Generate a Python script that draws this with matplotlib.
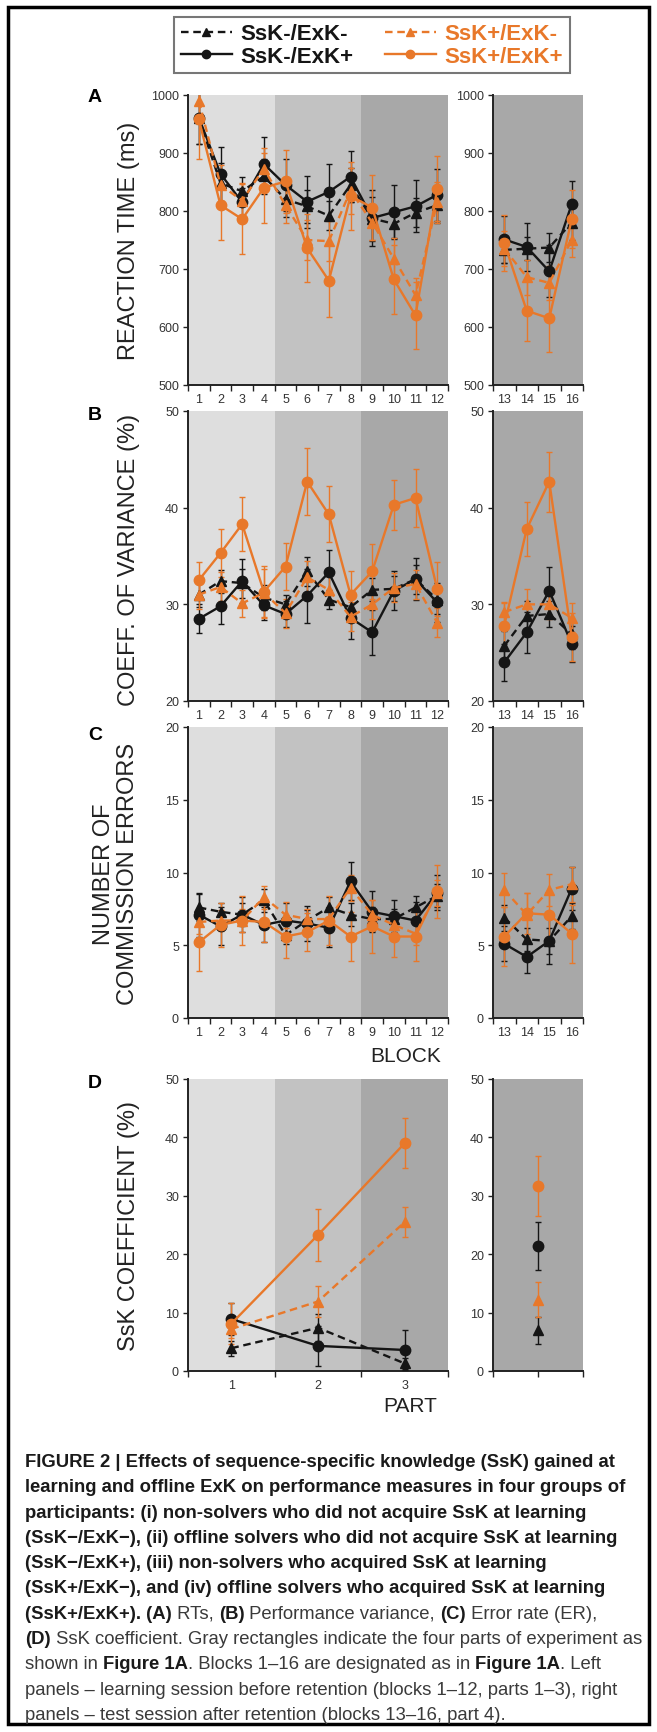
import numpy as np
import matplotlib.pyplot as plt
from matplotlib.patches import Rectangle
from matplotlib import font_manager

plt.rcParams['font.family'] = ['Liberation Sans', 'DejaVu Sans']

# dados
blocks = np.arange(1, 17)
parts = np.array([1, 2, 3, 4])

# A - tempo de reacao (ms)
rt_nn = [960, 848, 834, 860, 820, 808, 792, 845, 787, 778, 797, 810, 733, 735, 737, 780]
rt_nn_err = [45, 35, 25, 30, 30, 28, 25, 30, 38, 25, 25, 30, 22, 20, 25, 30]
rt_ns = [961, 864, 815, 881, 845, 816, 833, 859, 788, 798, 808, 828, 751, 738, 696, 812]
rt_ns_err = [45, 46, 25, 47, 45, 45, 48, 44, 48, 47, 45, 45, 40, 42, 45, 40]
rt_sn = [990, 845, 818, 873, 810, 750, 748, 835, 780, 718, 655, 815, 735, 686, 676, 750]
rt_sn_err = [40, 35, 30, 35, 30, 35, 35, 40, 30, 35, 30, 35, 30, 30, 30, 30]
rt_ss = [958, 810, 786, 840, 851, 736, 680, 826, 806, 682, 620, 838, 745, 628, 615, 786]
rt_ss_err = [68, 60, 60, 60, 55, 58, 62, 58, 56, 60, 58, 56, 48, 52, 58, 50]

# B - coeficiente de variacao (%)
cv_nn = [31.0, 32.4, 32.2, 30.7, 30.0, 33.4, 30.5, 29.7, 31.5, 31.6, 32.6, 30.5, 25.7, 28.8, 29.0, 26.9]
cv_nn_err = [1.3, 1.2, 1.5, 1.3, 1.0, 1.5, 1.0, 1.2, 1.2, 1.3, 1.5, 1.5, 1.5, 1.5, 1.3, 1.5]
cv_ns = [28.5, 29.8, 32.4, 29.9, 29.0, 30.9, 33.3, 28.6, 27.1, 31.4, 32.6, 30.2, 24.0, 27.1, 31.4, 25.9]
cv_ns_err = [1.5, 1.8, 2.3, 1.5, 1.3, 2.8, 2.3, 2.2, 2.3, 2.0, 2.2, 2.0, 1.9, 2.1, 2.5, 1.9]
cv_sn = [31.0, 31.8, 30.1, 31.2, 29.1, 32.8, 31.5, 28.7, 30.0, 31.7, 32.1, 28.1, 29.2, 30.0, 30.0, 28.6]
cv_sn_err = [1.5, 1.5, 1.4, 2.5, 1.5, 1.7, 1.5, 1.5, 1.5, 1.5, 1.5, 1.5, 1.0, 1.6, 1.5, 1.5]
cv_ss = [32.5, 35.3, 38.3, 31.3, 33.9, 42.7, 39.3, 31.0, 33.4, 40.3, 41.0, 31.6, 27.8, 37.8, 42.7, 26.6]
cv_ss_err = [1.9, 2.5, 2.8, 2.7, 2.4, 3.5, 2.9, 2.5, 2.8, 2.6, 3.0, 2.8, 2.3, 2.8, 3.1, 2.5]

# C - numero de erros de comissao
er_nn = [7.6, 7.3, 7.1, 8.1, 5.7, 6.7, 7.6, 7.1, 6.8, 6.8, 7.6, 8.4, 6.9, 5.4, 5.3, 7.0]
er_nn_err = [0.9, 0.6, 0.8, 0.8, 0.6, 0.7, 0.7, 0.8, 0.8, 0.7, 0.8, 0.8, 0.9, 0.8, 0.9, 0.9]
er_ns = [7.1, 6.3, 7.1, 6.4, 6.7, 6.5, 6.2, 9.4, 7.3, 7.0, 6.7, 8.6, 5.1, 4.2, 5.3, 8.9]
er_ns_err = [1.5, 1.3, 1.2, 1.2, 1.2, 1.2, 1.3, 1.3, 1.4, 1.1, 1.3, 1.2, 1.2, 1.1, 1.6, 1.5]
er_sn = [6.6, 6.7, 6.7, 8.3, 7.1, 6.8, 6.8, 8.95, 7.1, 6.4, 5.8, 8.6, 8.8, 7.1, 8.8, 9.2]
er_sn_err = [0.8, 0.7, 0.8, 0.8, 0.9, 0.7, 0.8, 0.9, 1.0, 0.8, 0.8, 0.9, 1.2, 1.5, 1.1, 1.2]
er_ss = [5.2, 6.4, 6.7, 6.6, 5.6, 5.9, 6.7, 5.6, 6.3, 5.6, 5.6, 8.7, 5.6, 7.2, 7.1, 5.8]
er_ss_err = [2.0, 1.5, 1.7, 1.4, 1.5, 1.3, 1.7, 1.7, 1.8, 1.4, 1.7, 1.8, 2.0, 1.4, 1.5, 2.0]

# D - coeficiente SsK (%) por parte
sk_nn = [3.9, 7.4, 1.3, 7.0]
sk_nn_err = [1.3, 2.3, 1.0, 2.3]
sk_ns = [8.9, 4.3, 3.6, 21.4]
sk_ns_err = [2.8, 3.4, 3.5, 4.1]
sk_sn = [7.2, 11.9, 25.5, 12.2]
sk_sn_err = [1.5, 2.6, 2.5, 3.0]
sk_ss = [8.1, 23.3, 39.0, 31.7]
sk_ss_err = [3.5, 4.5, 4.3, 5.1]

labels = ['SsK-/ExK-', 'SsK-/ExK+', 'SsK+/ExK-', 'SsK+/ExK+']

preto = '#151515'
laranja = '#e8782a'
cinza1, cinza2, cinza3 = '#dedede', '#c2c2c2', '#a8a8a8'
estilos = [(preto, '^', (0, (3.2, 2))), (preto, 'o', '-'),
           (laranja, '^', (0, (3.2, 2))), (laranja, 'o', '-')]

W, H = 657, 1733
fig = plt.figure(figsize=(W / 100, H / 100), dpi=100)


def eixo(x0, y0, x1, y1):
    # posicao em pixels (origem no topo)
    return fig.add_axes([x0 / W, 1 - y1 / H, (x1 - x0) / W, (y1 - y0) / H])


def desenha(ax, x, series, faixas, xlim, ylim, yticks):
    for lo, hi, c in faixas:
        ax.axvspan(lo, hi, color=c, lw=0, zorder=0)
    linhas = []
    for (y, e), (cor, mk, ls) in zip(series, estilos):
        cont = ax.errorbar(x, y, yerr=e, color=cor, marker=mk, ls=ls, lw=1.7,
                           markersize=7.5, elinewidth=1, capsize=2.5, capthick=1,
                           zorder=3)
        linhas.append(cont[0])
    ax.set_xlim(*xlim)
    ax.set_ylim(*ylim)
    ax.set_yticks(yticks)
    ax.set_facecolor('none')
    for s in ['top', 'right']:
        ax.spines[s].set_visible(False)
    for s in ['left', 'bottom']:
        ax.spines[s].set_color('#222222')
        ax.spines[s].set_linewidth(1.4)
    ax.tick_params(axis='y', direction='out', length=3.5, width=1, pad=3,
                   labelsize=9, labelcolor='#333333', color='#222222')
    ax.tick_params(axis='x', which='major', direction='out', length=4, width=1,
                   color='#222222')
    ax.tick_params(axis='x', which='minor', length=0, pad=6, labelsize=9,
                   labelcolor='#333333')
    return linhas


def ticks_blocos(ax, lo, hi):
    ax.set_xticks(np.arange(lo - 0.5, hi + 1, 1.0))
    ax.set_xticklabels([])
    ax.set_xticks(np.arange(lo, hi + 1), minor=True)
    ax.set_xticklabels([str(b) for b in range(lo, hi + 1)], minor=True)


faixas_l = [(0.5, 4.5, cinza1), (4.5, 8.5, cinza2), (8.5, 12.5, cinza3)]
faixas_r = [(12.5, 16.5, cinza3)]

paineis = [
    ([rt_nn, rt_ns, rt_sn, rt_ss], [rt_nn_err, rt_ns_err, rt_sn_err, rt_ss_err],
     (96, 386), (500, 1000), np.arange(500, 1001, 100)),
    ([cv_nn, cv_ns, cv_sn, cv_ss], [cv_nn_err, cv_ns_err, cv_sn_err, cv_ss_err],
     (412, 702), (20, 50), np.arange(20, 51, 10)),
    ([er_nn, er_ns, er_sn, er_ss], [er_nn_err, er_ns_err, er_sn_err, er_ss_err],
     (728, 1019), (0, 20), np.arange(0, 21, 5)),
]

handles = None
for vals, errs, (y0, y1), ylim, yt in paineis:
    ax_l = eixo(188, y0, 448, y1)
    ax_r = eixo(493, y0, 583, y1)
    s_l = [(np.array(v)[:12], np.array(e)[:12]) for v, e in zip(vals, errs)]
    s_r = [(np.array(v)[12:], np.array(e)[12:]) for v, e in zip(vals, errs)]
    h = desenha(ax_l, blocks[:12], s_l, faixas_l, (0.5, 12.5), ylim, yt)
    desenha(ax_r, blocks[12:], s_r, faixas_r, (12.5, 16.5), ylim, yt)
    ticks_blocos(ax_l, 1, 12)
    ticks_blocos(ax_r, 13, 16)
    if handles is None:
        handles = h

# painel D
ax_l = eixo(188, 1080, 448, 1372)
ax_r = eixo(493, 1080, 583, 1372)
sk_all = [(sk_nn, sk_nn_err), (sk_ns, sk_ns_err), (sk_sn, sk_sn_err), (sk_ss, sk_ss_err)]
desenha(ax_l, parts[:3], [(np.array(v)[:3], np.array(e)[:3]) for v, e in sk_all],
        [(0.5, 1.5, cinza1), (1.5, 2.5, cinza2), (2.5, 3.5, cinza3)],
        (0.5, 3.5), (0, 50), np.arange(0, 51, 10))
desenha(ax_r, parts[3:], [(np.array(v)[3:], np.array(e)[3:]) for v, e in sk_all],
        [(3.5, 4.5, cinza3)], (3.5, 4.5), (0, 50), np.arange(0, 51, 10))
ax_l.set_xticks([0.5, 1.5, 2.5, 3.5])
ax_l.set_xticklabels([])
ax_l.set_xticks([1, 2, 3], minor=True)
ax_l.set_xticklabels(['1', '2', '3'], minor=True)
ax_r.set_xticks([3.5, 4, 4.5])
ax_r.set_xticklabels([])
ax_r.set_xticks([4], minor=True)
ax_r.set_xticklabels(['4'], minor=True)

# rotulos dos eixos
ylab = dict(rotation=90, ha='center', va='center', fontsize=17, color='#222222')
fig.text(129 / W, 1 - 241 / H, 'REACTION TIME (ms)', **ylab)
fig.text(129 / W, 1 - 560 / H, 'COEFF. OF VARIANCE (%)', **ylab)
fig.text(116 / W, 1 - 874 / H, 'NUMBER OF\nCOMMISSION ERRORS', linespacing=1.1, **ylab)
fig.text(129 / W, 1 - 1226 / H, 'SsK COEFFICIENT (%)', **ylab)
fig.text(406 / W, 1 - 1057 / H, 'BLOCK', ha='center', va='center', fontsize=15, color='#222222')
fig.text(410 / W, 1 - 1407 / H, 'PART', ha='center', va='center', fontsize=15, color='#222222')

for letra, yc in zip('ABCD', [97, 416, 736, 1083]):
    fig.text(95 / W, 1 - yc / H, letra, ha='center', va='center', fontsize=14,
             weight='bold', color='black')

# legenda
leg = fig.legend(handles, labels, ncol=2, loc='center',
                 bbox_to_anchor=(372 / W, 1 - 46 / H),
                 prop={'weight': 'bold', 'size': 16}, frameon=True,
                 fancybox=False, edgecolor='#555555', handlelength=2.3,
                 columnspacing=1.4, labelspacing=0.05, borderpad=0.3,
                 handletextpad=0.4, markerscale=0.8, labelcolor='linecolor')
leg.get_frame().set_linewidth(1.5)

# moldura
fig.patches.append(Rectangle((8 / W, 8 / H), 1 - 16 / W, 1 - 16 / H, fill=False,
                             lw=2.5, ec='black', transform=fig.transFigure))

# legenda da figura (texto)
nomes = {f.name for f in font_manager.fontManager.ttflist}
fam = 'Liberation Sans Narrow' if 'Liberation Sans Narrow' in nomes else 'Liberation Sans'

B, R = 'bold', 'normal'
caption = [
    [("FIGURE 2 | Effects of sequence-specific knowledge (SsK) gained at", B)],
    [("learning and offline ExK on performance measures in four groups of", B)],
    [("participants: (i) non-solvers who did not acquire SsK at learning", B)],
    [("(SsK\u2212/ExK\u2212), (ii) offline solvers who did not acquire SsK at learning", B)],
    [("(SsK\u2212/ExK+), (iii) non-solvers who acquired SsK at learning", B)],
    [("(SsK+/ExK\u2212), and (iv) offline solvers who acquired SsK at learning", B)],
    [("(SsK+/ExK+). (A)", B), (" RTs, ", R), ("(B)", B), (" Performance variance, ", R),
     ("(C)", B), (" Error rate (ER),", R)],
    [("(D)", B), (" SsK coefficient. Gray rectangles indicate the four parts of experiment as", R)],
    [("shown in ", R), ("Figure 1A", B), (". Blocks 1\u201316 are designated as in ", R),
     ("Figure 1A", B), (". Left", R)],
    [("panels \u2013 learning session before retention (blocks 1\u201312, parts 1\u20133), right", R)],
    [("panels \u2013 test session after retention (blocks 13\u201316, part 4).", R)],
]

renderer = fig.canvas.get_renderer()
t = fig.text(0, 0, caption[0][0][0], fontsize=10, weight='bold', family=fam)
larg = t.get_window_extent(renderer).width
t.remove()
tam = 10 * 592 / larg

for i, linha in enumerate(caption):
    x = 25
    yb = 1467 + 25.3 * i
    for txt, peso in linha:
        t = fig.text(x / W, 1 - yb / H, txt, fontsize=tam, weight=peso, family=fam,
                     va='baseline', ha='left',
                     color='#1a1a1a' if peso == B else '#3a3a3a')
        x += t.get_window_extent(renderer).width

fig.savefig('out.png', dpi=100)
